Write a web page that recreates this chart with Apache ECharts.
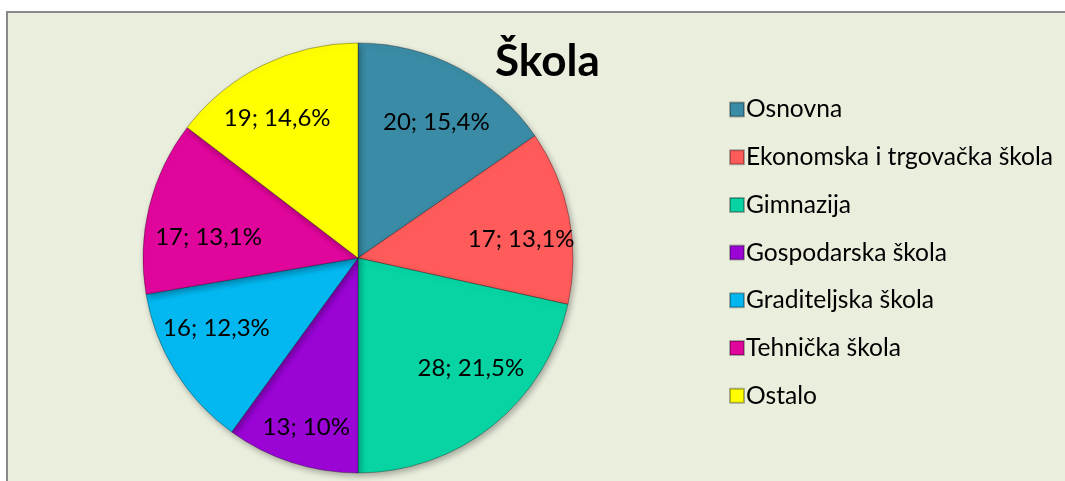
<!DOCTYPE html>
<html>
<head>
<meta charset="utf-8">
<script src="https://cdn.jsdelivr.net/npm/echarts@6/dist/echarts.min.js"></script>
<style>
  html, body { margin: 0; padding: 0; background: #ffffff; overflow: hidden; }
  #chart { width: 1065px; height: 481px; }
</style>
</head>
<body>
<div id="chart"></div>
<script>
// chart data
const categories = ['Osnovna', 'Ekonomska i trgovačka škola', 'Gimnazija', 'Gospodarska škola',
    'Graditeljska škola', 'Tehnička škola', 'Ostalo'];
const counts = [20, 17, 28, 13, 16, 17, 19];
const percentLabels = ['15,4%', '13,1%', '21,5%', '10%', '12,3%', '13,1%', '14,6%'];
const sliceColors = ['#3a8ba5', '#ff5b5b', '#07d3a3', '#9a05d6', '#03b8f0', '#e0069c', '#ffff00'];
// small label nudges, like the best-fit placement of the original
const labelNudge = [[2, 10], [2, 13], [10, -18], [-1, 13], [-2, -16], [10, 19], [-8, 8]];

const fontName = 'Lato, "Open Sans", sans-serif';

let pieData = categories.map(function (name, i) {
    return {name: name, value: counts[i], itemStyle: {color: sliceColors[i]}};
});

let chart = echarts.init(document.getElementById('chart'));
let center = [358, 258];
let outer = 215;

chart.setOption({
    backgroundColor: '#ffffff',
    animation: false,
    graphic: [{
        type: 'rect',
        z: -10,
        shape: {x: 7, y: 12, width: 2000, height: 1000},
        style: {fill: '#eaeedd', stroke: '#8a8a8a', lineWidth: 2}
    }],
    title: {
        text: 'Škola',
        left: 490,
        top: 35,
        textStyle: {fontFamily: fontName, fontWeight: 'bold', fontSize: 44, color: '#000'}
    },
    legend: {
        orient: 'vertical',
        left: 724,
        top: 92,
        icon: 'rect',
        itemWidth: 14,
        itemHeight: 14,
        itemGap: 22.7,
        textStyle: {fontFamily: fontName, fontSize: 24.6, lineHeight: 21, color: '#000', padding: [0, 0, 0, -3]},
        data: categories
    },
    series: [
        {
            // full pie, no labels
            type: 'pie',
            center: center,
            radius: [0, outer],
            startAngle: 90,
            clockwise: true,
            label: {show: false},
            labelLine: {show: false},
            emphasis: {disabled: true},
            itemStyle: {
                borderColor: 'rgba(0,0,0,0.3)',
                borderWidth: 1,
                shadowBlur: 6,
                shadowOffsetX: 2,
                shadowOffsetY: 3,
                shadowColor: 'rgba(0,0,0,0.3)'
            },
            data: pieData
        },
        {
            // transparent ring on top only used to push labels outwards
            type: 'pie',
            center: center,
            radius: [outer * 0.5, outer],
            startAngle: 90,
            clockwise: true,
            silent: true,
            emphasis: {disabled: true},
            itemStyle: {color: 'rgba(0,0,0,0)', borderWidth: 0},
            label: {
                show: true,
                position: 'inside',
                fontFamily: fontName,
                fontSize: 24,
                color: '#000',
                formatter: function (p) {
                    return p.value + '; ' + percentLabels[p.dataIndex];
                }
            },
            labelLine: {show: false},
            data: categories.map(function (name, i) {
                return {name: name, value: counts[i], label: {offset: labelNudge[i]}};
            })
        }
    ]
});
</script>
</body>
</html>
